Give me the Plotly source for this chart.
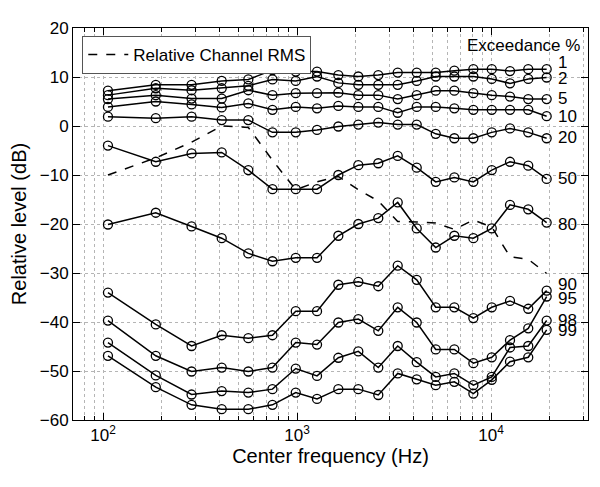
import plotly.graph_objects as go
import numpy as np

freq = [106, 187, 286, 409, 561, 747, 985, 1268, 1633, 2070, 2624, 3304,
        4140, 5188, 6471, 8110, 10090, 12530, 15560, 19360]

rms = [-10.0, -6.5, -3.3, 0.0, -0.3, -7.0, -13.0, -11.4, -10.3, -13.0, -15.3, -19.5,
       -19.6, -19.8, -21.1, -19.2, -20.6, -26.7, -27.2, -30.1]

ex1 = [7.2, 8.4, 8.4, 9.2, 9.5, 11.4, 11.1, 11.1, 10.4, 10.1, 10.4, 10.9,
       10.9, 10.9, 11.3, 11.6, 11.6, 11.2, 11.6, 11.6]
ex2 = [6.3, 7.7, 7.3, 7.7, 8.2, 9.5, 9.2, 10.1, 8.8, 8.4, 8.4, 8.4,
       9.2, 10.1, 10.1, 10.1, 9.6, 8.7, 9.6, 9.9]
ex5 = [5.5, 6.3, 5.6, 5.6, 7.3, 6.3, 6.7, 6.7, 6.8, 6.3, 6.3, 5.5,
       6.3, 7.2, 7.2, 6.7, 6.3, 6.0, 5.5, 5.5]
ex10 = [3.9, 5.0, 4.4, 3.8, 4.6, 3.3, 3.9, 3.6, 4.1, 3.9, 3.9, 2.7,
        3.9, 3.9, 3.6, 3.3, 3.3, 3.3, 3.3, 2.0]
ex20 = [1.9, 1.6, 1.9, 1.2, 1.2, -1.3, -1.3, -0.8, -0.1, 0.3, 0.7, 0.3,
        0.3, -1.6, -2.5, -2.5, -1.3, -0.5, -1.3, -2.5]
ex50 = [-4.0, -7.3, -5.6, -5.4, -9.0, -12.9, -12.9, -12.9, -10.0, -8.0, -7.6, -6.1,
        -8.5, -11.4, -10.5, -11.4, -9.0, -7.3, -8.1, -10.8]
ex80 = [-20.1, -17.7, -20.5, -22.9, -26.0, -27.6, -26.9, -26.9, -22.4, -20.0, -18.8, -15.6,
        -20.9, -24.8, -22.4, -22.9, -20.9, -16.1, -17.0, -19.7]
ex90 = [-34.0, -40.5, -44.9, -42.7, -43.3, -42.7, -37.8, -37.8, -32.4, -31.8, -32.7, -28.5,
        -31.4, -37.0, -37.0, -39.2, -37.0, -35.7, -37.3, -33.6]
ex95 = [-39.7, -46.9, -50.1, -49.3, -50.1, -49.3, -44.2, -44.6, -40.1, -39.4, -41.8, -37.0,
        -40.1, -45.6, -45.6, -48.4, -47.2, -43.7, -41.3, -34.8]
ex98 = [-44.2, -50.9, -54.8, -54.1, -54.4, -53.7, -49.5, -51.0, -47.3, -46.0, -49.3, -44.9,
        -48.2, -51.2, -50.5, -52.9, -51.2, -45.2, -44.9, -39.7]
ex99 = [-46.9, -53.3, -56.9, -57.8, -57.8, -56.9, -54.4, -55.7, -53.7, -53.7, -54.9, -50.5,
        -51.7, -52.9, -52.2, -54.6, -51.8, -48.1, -47.2, -41.6]

series = [("1", ex1), ("2", ex2), ("5", ex5), ("10", ex10), ("20", ex20), ("50", ex50),
          ("80", ex80), ("90", ex90), ("95", ex95), ("98", ex98), ("99", ex99)]
label_names = ["1", "2", "5", "10", "20", "50", "80", "90", "95", "98", "99"]
label_y = [13.0, 9.6, 5.6, 1.9, -2.4, -10.8, -20.0, -32.4, -35.3, -39.6, -41.8]

x_tickvals = [100, 1000, 10000]
x_ticktext = ["10<sup>2</sup>", "10<sup>3</sup>", "10<sup>4</sup>"]

FONT = "Liberation Sans, Arial, sans-serif"

fig = go.Figure()

fig.add_trace(go.Scatter(
    x=freq, y=rms, mode="lines", name="Relative Channel RMS",
    line=dict(color="black", width=1.5, dash="dash"), showlegend=True))

for name, vals in series:
    fig.add_trace(go.Scatter(
        x=freq, y=vals, mode="lines+markers", name=name, showlegend=False,
        line=dict(color="black", width=1.5),
        marker=dict(symbol="circle-open", size=9, color="black", line=dict(width=1.3, color="black"))))

annotations = [dict(x=4.47, y=16.4, xref="x", yref="y", text="Exceedance %", showarrow=False,
                    xanchor="right", yanchor="middle", height=15,
                    font=dict(size=17, color="black", family=FONT))]
for t, yv in zip(label_names, label_y):
    annotations.append(dict(x=4.335, y=yv, xref="x", yref="y", text=t, showarrow=False,
                            xanchor="left", yanchor="middle", height=13,
                            font=dict(size=17, color="black", family=FONT)))

minor_vals = []
for dec in [10, 100, 1000, 10000]:
    for d in range(2, 10):
        v = d * dec
        if 70 <= v <= 31623 and v not in x_tickvals:
            minor_vals.append(v)

grid_color = "#b5b5b5"

fig.update_layout(
    width=600, height=487,
    margin=dict(l=65, r=20, t=20, b=75),
    paper_bgcolor="white", plot_bgcolor="white",
    font=dict(family=FONT, color="black", size=17),
    showlegend=True,
    legend=dict(x=0.018, y=0.98, xanchor="left", yanchor="top",
                bgcolor="white", bordercolor="#555555", borderwidth=1,
                font=dict(size=17, family=FONT, color="black"),
                tracegroupgap=0, itemwidth=40),
    annotations=annotations,
    xaxis=dict(
        type="log", range=[np.log10(70), 4.5], automargin=False,
        tickmode="array", tickvals=x_tickvals, ticktext=x_ticktext,
        ticks="inside", ticklen=7, tickcolor="black",
        showline=True, linecolor="black", linewidth=1, mirror="ticks",
        showgrid=True, gridcolor=grid_color, griddash="dot", gridwidth=1,
        zeroline=False,
        tickfont=dict(size=17, family=FONT),
        title=dict(text="Center frequency (Hz)", font=dict(size=20, family=FONT), standoff=0),
        minor=dict(tickmode="array", tickvals=minor_vals, ticks="inside", ticklen=4,
                   tickcolor="black", showgrid=True, gridcolor=grid_color, griddash="dot", gridwidth=1),
    ),
    yaxis=dict(
        range=[-60, 20], dtick=10, tick0=0, automargin=False,
        ticks="inside", ticklen=7, tickcolor="black",
        showline=True, linecolor="black", linewidth=1, mirror="ticks",
        showgrid=True, gridcolor=grid_color, griddash="dot", gridwidth=1,
        zeroline=False,
        tickfont=dict(size=17, family=FONT),
        title=dict(text="Relative level (dB)", font=dict(size=20, family=FONT), standoff=8),
    ),
)

fig.write_html("out.html")
